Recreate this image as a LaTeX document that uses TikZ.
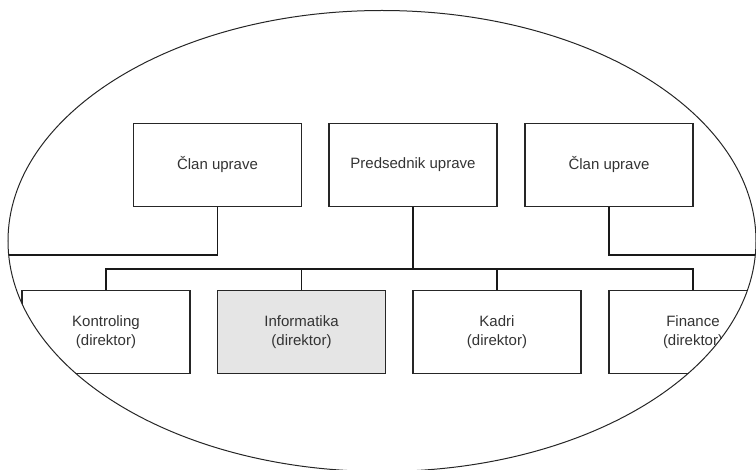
\documentclass[tikz,border=0pt]{standalone}
\usepackage{fontspec}
\setmainfont{Liberation Sans}
\begin{document}
\begin{tikzpicture}[x=1pt,y=-1pt,
  box/.style={draw=black!85, line width=1.3pt, minimum width=168pt, minimum height=83pt,
    align=center, inner sep=0pt, font=\fontsize{15}{19}\selectfont, text=black!80},
  lead/.style={draw=black!90, line width=1.8pt},
  bus/.style={draw=black!90, line width=1.2pt}]
\useasboundingbox (0,0) rectangle (756,470);

\begin{scope}
  \clip (382,241) ellipse [x radius=374, y radius=230.5];

  % board
  \node[box] (c1) at (217.5,165) {Član uprave};
  \node[box] (pr) at (413,165) {Predsednik uprave};
  \node[box] (c2) at (609,165) {Član uprave};

  % directors
  \node[box] (ko) at (106,332) {Kontroling\\(direktor)};
  \node[box, fill=black!10] (in) at (301.5,332) {Informatika\\(direktor)};
  \node[box] (ka) at (497,332) {Kadri\\(direktor)};
  \node[box] (fi) at (693,332) {Finance\\(direktor)};

  \coordinate (lw) at (0,255);
  \coordinate (rw) at (760,255);
  \coordinate (bus) at (413,269);

  % board members' lines out to the rim
  \draw[lead] (c1.south) |- (lw);
  \draw[lead] (c2.south) |- (rw);
  \draw[lead] (pr.south) -- (bus);

  % director bus
  \draw[bus] (ko.north) |- (bus) -| (fi.north);
  \draw[bus] (in.north) -- (in.north |- bus);
  \draw[bus] (ka.north) -- (ka.north |- bus);
\end{scope}

\draw[black!85, line width=1pt] (382,241) ellipse [x radius=374, y radius=230.5];
\end{tikzpicture}
\end{document}
